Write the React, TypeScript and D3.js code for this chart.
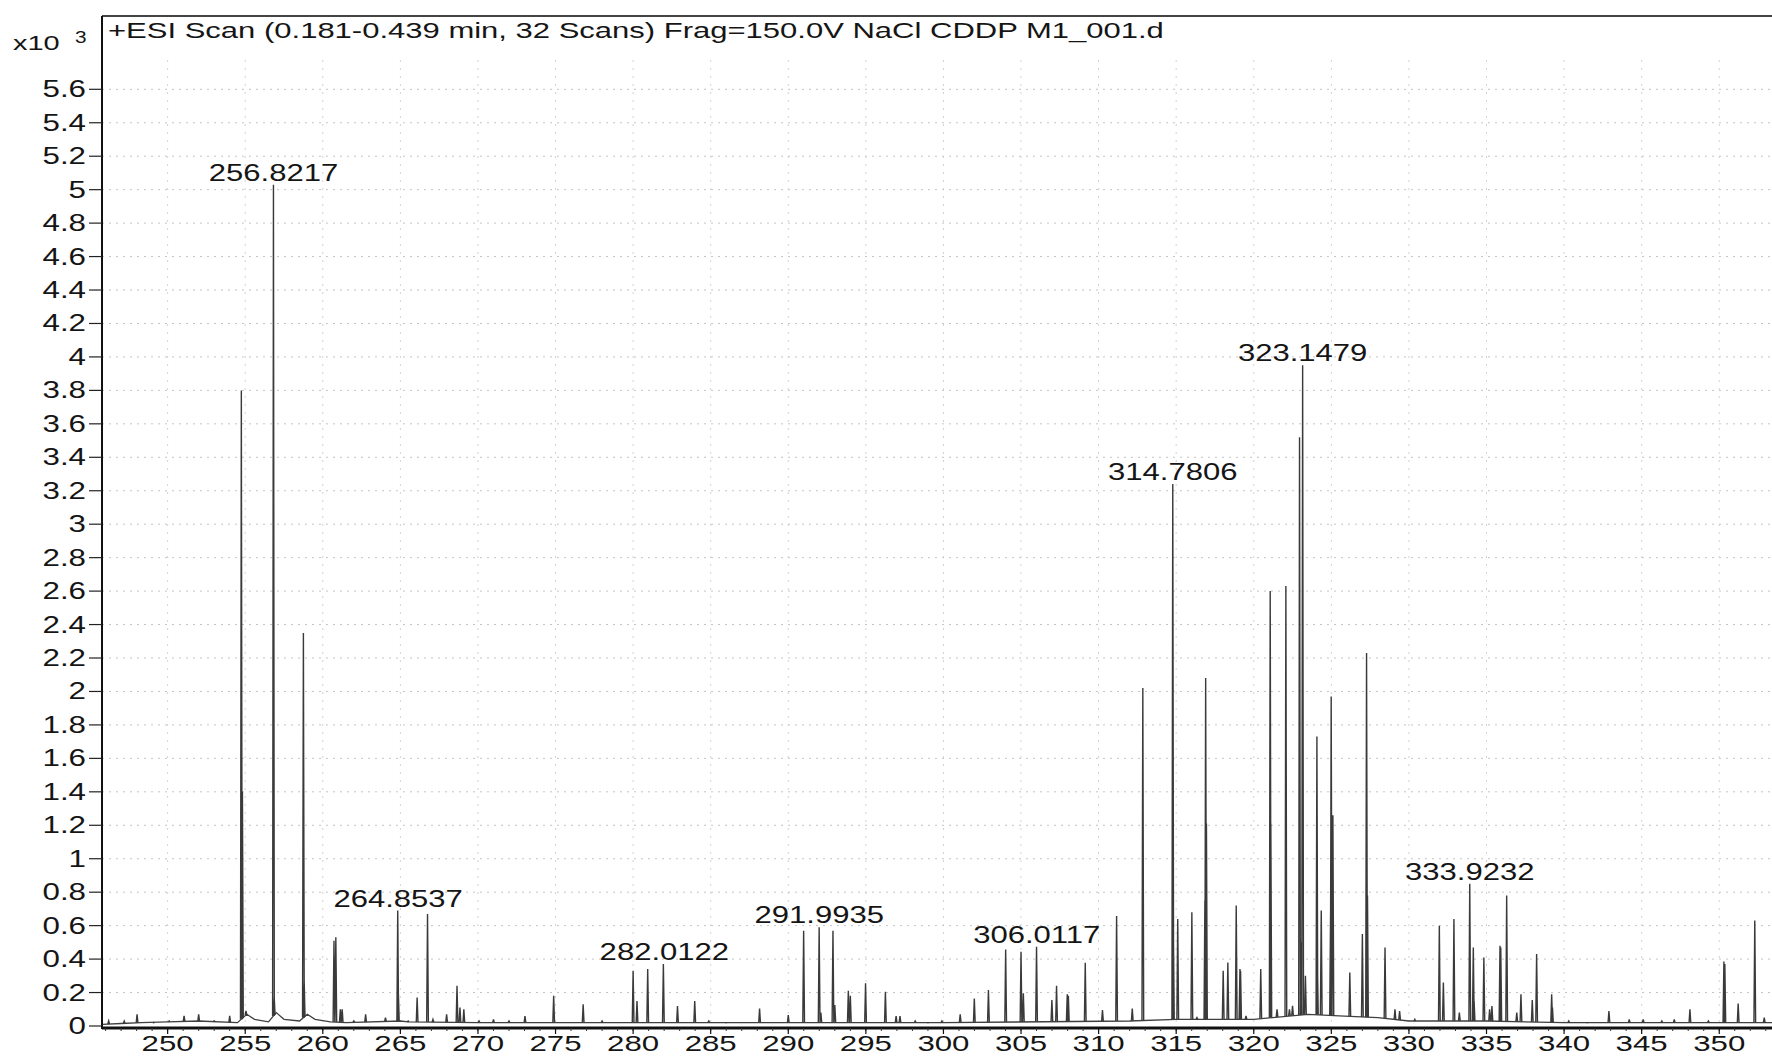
import React from "react";
import * as d3 from "d3";

const W = 1772;
const H = 1058;

const titleText = "+ESI Scan (0.181-0.439 min, 32 Scans) Frag=150.0V NaCl CDDP M1_001.d";

const xTicks = [250, 255, 260, 265, 270, 275, 280, 285, 290, 295, 300, 305, 310, 315, 320, 325, 330, 335, 340, 345, 350];
const yTicks = [0, 0.2, 0.4, 0.6, 0.8, 1, 1.2, 1.4, 1.6, 1.8, 2, 2.2, 2.4, 2.6, 2.8, 3, 3.2, 3.4, 3.6, 3.8, 4, 4.2, 4.4, 4.6, 4.8, 5, 5.2, 5.4, 5.6];

// peak centroids (m/z) and heights (x10^3 counts)
const peakMz = [
  246.2, 247.2, 248.03, 249.1, 250.1, 251.06, 252.0, 253.0, 254.0,
  254.75, 254.82, 255.05, 256.82, 256.87, 258.75, 258.8,
  260.72, 260.84, 261.13, 261.25, 262.0, 262.76, 264.04, 264.83, 264.87, 265.5,
  266.08, 266.75, 267.1, 267.98, 268.65, 268.84, 269.09, 270.07, 271.0, 272.0, 273.03,
  274.88, 276.78, 278.0,
  280.0, 280.25, 280.94, 281.95, 282.86, 283.97, 284.88, 286.0, 288.15, 290.0,
  290.99, 291.99, 292.1, 292.88, 293.0, 293.87, 294.0, 294.98, 296.26, 296.95, 297.2,
  298.18, 299.0, 299.9, 301.08, 301.99, 302.9, 304.01, 305.0, 305.15, 306.0,
  306.99, 307.29, 307.98, 308.05, 309.14, 310.25, 311.16, 312.17, 312.85,
  314.78, 314.82, 315.1, 316.01, 316.34, 316.85, 316.9, 316.95, 318.03, 318.33,
  318.87, 319.11, 319.15, 319.5, 320.45, 321.06, 321.1, 321.5, 322.07, 322.3, 322.5,
  322.95, 323.05, 323.15, 323.33, 324.07, 324.1, 324.35, 324.95, 324.99, 325.1,
  326.19, 327.0, 327.27, 327.33, 328.46, 329.1, 329.4, 330.38,
  331.96, 332.22, 332.9, 333.25, 333.92, 334.15, 334.2, 334.83, 335.2, 335.35,
  335.87, 335.92, 336.3, 336.95, 337.22, 337.95, 338.23, 339.2, 339.25, 340.3,
  341.5, 342.89, 344.2, 345.1, 346.3, 347.1, 348.11, 349.3, 350.3, 350.36,
  351.22, 352.29, 352.9
];
const peakInt = [
  0.03, 0.03, 0.07, 0.02, 0.03, 0.06, 0.07, 0.03, 0.06,
  3.8, 1.4, 0.09, 5.03, 0.17, 2.35, 0.27,
  0.51, 0.53, 0.1, 0.1, 0.03, 0.07, 0.05, 0.69, 0.2, 0.03,
  0.17, 0.67, 0.04, 0.07, 0.24, 0.11, 0.1, 0.03, 0.04, 0.03, 0.06,
  0.18, 0.13, 0.03,
  0.33, 0.15, 0.34, 0.37, 0.12, 0.15, 0.03, 0.02, 0.105, 0.065,
  0.57, 0.59, 0.08, 0.57, 0.125, 0.21, 0.18, 0.255, 0.205, 0.06, 0.06,
  0.03, 0.02, 0.03, 0.07, 0.165, 0.215, 0.458, 0.444, 0.195, 0.474,
  0.155, 0.24, 0.19, 0.18, 0.378, 0.095, 0.657, 0.105, 2.02,
  3.24, 0.57, 0.64, 0.68, 0.05, 0.75, 2.08, 1.21, 0.33, 0.38,
  0.72, 0.34, 0.33, 0.06, 0.34, 2.6, 1.21, 0.1, 2.63, 0.1, 0.12,
  3.52, 0.5, 3.95, 0.3, 1.73, 0.4, 0.69, 0.67, 1.97, 1.26,
  0.32, 0.55, 2.23, 0.78, 0.47, 0.1, 0.09, 0.04,
  0.6, 0.26, 0.64, 0.08, 0.85, 0.47, 0.15, 0.41, 0.1, 0.12,
  0.48, 0.47, 0.78, 0.08, 0.19, 0.155, 0.43, 0.19, 0.11, 0.03,
  0.02, 0.09, 0.04, 0.04, 0.03, 0.04, 0.1, 0.03, 0.385, 0.37,
  0.135, 0.63, 0.05
];

// baseline trace (noise floor) control points
const baseMz = [245.8, 247.0, 248.3, 250, 252, 254.5, 255.1, 255.6, 256.5, 257.0, 257.5, 258.5, 259.0, 259.5, 260.5, 261.5, 265, 265.5, 270, 280, 290, 300, 312, 315, 320, 323.5, 325.5, 328, 330, 335, 340, 353.5];
const baseInt = [0.01, 0.015, 0.02, 0.025, 0.03, 0.02, 0.07, 0.04, 0.025, 0.08, 0.04, 0.03, 0.07, 0.04, 0.025, 0.02, 0.03, 0.025, 0.02, 0.02, 0.02, 0.02, 0.03, 0.04, 0.04, 0.07, 0.06, 0.05, 0.03, 0.03, 0.02, 0.02];

const labelMz = [256.8217, 264.8537, 282.0122, 291.9935, 306.0117, 314.7806, 323.1479, 333.9232];
const labelInt = [5.03, 0.69, 0.37, 0.59, 0.474, 3.24, 3.95, 0.85];

const FONT = "'Liberation Sans', Arial, Helvetica, sans-serif";

function SText(props: { x: number; y: number; anchor?: string; size: number; sx: number; fill?: string; children: React.ReactNode }) {
  const { x, y, anchor = "start", size, sx, fill = "#151515", children } = props;
  return (
    <text
      transform={`translate(${x},${y}) scale(${sx},1)`}
      textAnchor={anchor as any}
      fontSize={size}
      fontFamily={FONT}
      fill={fill}
    >
      {children}
    </text>
  );
}

export default function App() {
  const left = 102;
  const top = 16;
  const x = d3.scaleLinear().domain([245.77, 353.4]).range([left, W]);
  const y = d3.scaleLinear().domain([0, 5.6]).range([1026, 89.3]);
  const axisY = 1028;

  const baseFn = (m: number) => {
    const i = d3.bisectRight(baseMz, m);
    if (i <= 0) return baseInt[0];
    if (i >= baseMz.length) return baseInt[baseInt.length - 1];
    const t = (m - baseMz[i - 1]) / (baseMz[i] - baseMz[i - 1]);
    return baseInt[i - 1] + t * (baseInt[i] - baseInt[i - 1]);
  };

  const baseLine = d3
    .line<number>()
    .x((_, i) => x(baseMz[i]))
    .y((_, i) => y(baseInt[i]))(baseMz);

  const hw = 0.055;
  let peakPath = "";
  peakMz.forEach((m, i) => {
    const b = baseFn(m);
    peakPath += `M${x(m - hw)},${y(b)}L${x(m)},${y(peakInt[i])}L${x(m + hw)},${y(b)}`;
  });

  const minorTicks = d3.range(246, 354, 1);
  const yFmt = (v: number) => String(+v.toFixed(1));

  return (
    <svg width={W} height={H} style={{ position: "absolute", left: 0, top: 0, background: "#fff" }}>
      <rect x={0} y={0} width={W} height={H} fill="#fff" />
      {/* grid */}
      <g stroke="#c4c4c4" strokeWidth={1} strokeDasharray="2,5">
        {yTicks.slice(1).map((t) => (
          <line key={"gy" + t} x1={left} x2={W} y1={y(t)} y2={y(t)} />
        ))}
      </g>
      <g stroke="#d2d2d2" strokeWidth={1} strokeDasharray="2,6">
        {xTicks.map((t) => (
          <line key={"gx" + t} x1={x(t)} x2={x(t)} y1={60} y2={axisY} />
        ))}
      </g>

      {/* spectrum */}
      <path d={baseLine || ""} fill="none" stroke="#404040" strokeWidth={1.3} />
      <path d={peakPath} fill="none" stroke="#3a3a3a" strokeWidth={1.4} strokeLinejoin="miter" />

      {/* frame / axes */}
      <line x1={left} x2={W} y1={top} y2={top} stroke="#444" strokeWidth={2} />
      <line x1={left} x2={left} y1={top} y2={axisY + 1} stroke="#111" strokeWidth={2} />
      <line x1={left} x2={W} y1={axisY} y2={axisY} stroke="#111" strokeWidth={3} />

      {yTicks.map((t) => (
        <g key={"yt" + t}>
          <line x1={left - 13} x2={left} y1={y(t)} y2={y(t)} stroke="#222" strokeWidth={1.2} />
          <SText x={left - 16} y={y(t) + 8} anchor="end" size={23} sx={1.36}>
            {yFmt(t)}
          </SText>
        </g>
      ))}

      {minorTicks.map((t) => (
        <line key={"mt" + t} x1={x(t)} x2={x(t)} y1={axisY} y2={axisY + 3} stroke="#333" strokeWidth={1} />
      ))}
      {xTicks.map((t) => (
        <g key={"xt" + t}>
          <line x1={x(t)} x2={x(t)} y1={axisY} y2={axisY + 6} stroke="#111" strokeWidth={1.2} />
          <SText x={x(t)} y={1051} anchor="middle" size={22} sx={1.42}>
            {String(t)}
          </SText>
        </g>
      ))}

      {/* scale factor */}
      <SText x={13} y={50} size={20} sx={1.45}>x10</SText>
      <SText x={75} y={43} size={16} sx={1.3}>3</SText>

      {/* title */}
      <SText x={108} y={38} size={22} sx={1.41}>{titleText}</SText>

      {/* peak labels */}
      {labelMz.map((m, i) => (
        <SText key={"lb" + m} x={x(m)} y={y(labelInt[i]) - 4} anchor="middle" size={23} sx={1.35}>
          {m.toFixed(4)}
        </SText>
      ))}
    </svg>
  );
}
